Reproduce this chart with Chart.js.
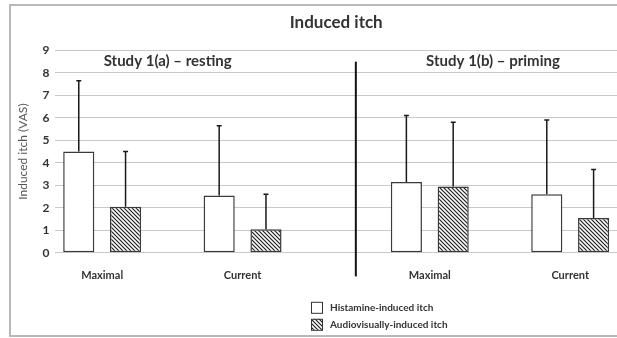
<!DOCTYPE html>
<html>
<head>
<meta charset="utf-8">
<script src="https://cdn.jsdelivr.net/npm/chart.js@4"></script>
<style>
  html, body { margin: 0; padding: 0; background: #fff; }
  #wrap { width: 617px; height: 338px; }
</style>
</head>
<body>
<div id="wrap"><canvas id="myChart" width="617" height="338"></canvas></div>
<script>
const groups = ['Maximal', 'Current', 'Maximal', 'Current'];
const histamine = [4.5, 2.55, 3.15, 2.6];
const histamineSD = [3.15, 3.1, 2.95, 3.3];
const audio = [2.05, 1.05, 2.95, 1.55];
const audioSD = [2.45, 1.55, 2.85, 2.15];
const seriesNames = ['Histamine-induced itch', 'Audiovisually-induced itch'];
const studies = ['Study 1(a) – resting', 'Study 1(b) – priming'];
const yMax = 9;

// x axis is split in 13 slots, the four groups sit on these slots
const slotCount = 13;
const groupSlots = [1, 4, 8, 11];

const FONT = 'Lato, "Open Sans", sans-serif';
const INK = '#333';

function spread(values) {
    const out = new Array(slotCount).fill(null);
    groupSlots.forEach((s, i) => { out[s] = values[i]; });
    return out;
}
const labels = spread(groups).map(v => v === null ? '' : v);

function makeHatch() {
    const c = document.createElement('canvas');
    c.width = 4; c.height = 4;
    const g = c.getContext('2d');
    g.fillStyle = '#fff';
    g.fillRect(0, 0, 4, 4);
    g.strokeStyle = '#1e1e1e';
    g.lineWidth = 1.2;
    g.beginPath();
    g.moveTo(-1, -1); g.lineTo(5, 5);
    g.moveTo(3, -1); g.lineTo(5, 1);
    g.moveTo(-1, 3); g.lineTo(1, 5);
    g.stroke();
    return g.createPattern(c, 'repeat');
}
const hatch = makeHatch();

// error bars, divider, study headings, legend and frame
const extras = {
    id: 'extras',
    beforeDraw(chart) {
        const ctx = chart.ctx;
        ctx.save();
        ctx.strokeStyle = '#b9b9b9';
        ctx.lineWidth = 2;
        ctx.strokeRect(10, 5, 640, 331);
        ctx.restore();
    },
    afterDatasetsDraw(chart) {
        const ctx = chart.ctx;
        const x = chart.scales.x, y = chart.scales.y;
        const sds = [histamineSD, audioSD];
        const means = [histamine, audio];
        ctx.save();
        ctx.strokeStyle = '#1a1a1a';
        ctx.lineWidth = 1.5;
        chart.data.datasets.forEach((ds, d) => {
            const meta = chart.getDatasetMeta(d);
            groupSlots.forEach((s, i) => {
                const bar = meta.data[s];
                const top = y.getPixelForValue(means[d][i] + sds[d][i]);
                ctx.beginPath();
                ctx.moveTo(bar.x, bar.y);
                ctx.lineTo(bar.x, top);
                ctx.moveTo(bar.x - 2.5, top);
                ctx.lineTo(bar.x + 2.5, top);
                ctx.stroke();
            });
        });
        // divider between the two studies
        ctx.lineWidth = 2;
        ctx.strokeStyle = '#111';
        const dx = x.getPixelForValue(6.42);
        ctx.beginPath();
        ctx.moveTo(dx, y.getPixelForValue(8.5));
        ctx.lineTo(dx, y.getPixelForValue(-1.05));
        ctx.stroke();
        ctx.restore();
    },
    afterDraw(chart) {
        const ctx = chart.ctx;
        const x = chart.scales.x, y = chart.scales.y;
        ctx.save();
        ctx.fillStyle = INK;
        ctx.font = 'bold 15px ' + FONT;
        ctx.textAlign = 'center';
        ctx.textBaseline = 'middle';
        ctx.fillText(studies[0], x.getPixelForValue(2.4), y.getPixelForValue(8.5));
        ctx.fillText(studies[1], x.getPixelForValue(9.35), y.getPixelForValue(8.5));

        // legend, stacked in two rows
        const lx = 311;
        let ly = chart.chartArea.bottom + 54;
        ctx.font = 'bold 10px ' + FONT;
        ctx.textAlign = 'left';
        const fills = ['#fff', hatch];
        seriesNames.forEach((name, i) => {
            ctx.fillStyle = fills[i];
            ctx.fillRect(lx, ly + i * 17 - 5, 11, 11);
            ctx.strokeStyle = '#333';
            ctx.lineWidth = 1;
            ctx.strokeRect(lx + 0.5, ly + i * 17 - 4.5, 11, 11);
            ctx.fillStyle = INK;
            ctx.fillText(name, lx + 19, ly + i * 17 + 1);
        });
        ctx.restore();
    }
};

const ctx = document.getElementById('myChart').getContext('2d');
const myChart = new Chart(ctx, {
    type: 'bar',
    data: {
        labels: labels,
        datasets: [{
            label: seriesNames[0],
            data: spread(histamine),
            backgroundColor: '#fff',
            borderColor: '#3a3a3a',
            borderWidth: 1.5,
            borderSkipped: false,
        }, {
            label: seriesNames[1],
            data: spread(audio),
            backgroundColor: hatch,
            borderColor: '#3a3a3a',
            borderWidth: 1.5,
            borderSkipped: false,
        }]
    },
    options: {
        responsive: false,
        animation: false,
        devicePixelRatio: 1,
        categoryPercentage: 2.0,
        barPercentage: 0.665,
        layout: { padding: { top: 8, left: 16, right: 0, bottom: 56 } },
        plugins: {
            legend: { display: false },
            tooltip: { enabled: false },
            title: {
                display: true,
                fullSize: false,
                text: 'Induced itch',
                color: INK,
                font: { family: FONT, size: 17, weight: 'bold' },
                padding: { top: 4, bottom: 18 }
            }
        },
        scales: {
            x: {
                offset: false,
                // invisible tick marks push the labels down without side padding
                grid: { display: true, drawOnChartArea: false, drawTicks: true, tickLength: 16, color: 'rgba(0,0,0,0)' },
                border: { display: false },
                ticks: {
                    autoSkip: false,
                    maxRotation: 0,
                    padding: 0,
                    color: INK,
                    font: { family: FONT, size: 11, weight: 'bold' }
                }
            },
            y: {
                min: 0,
                max: yMax,
                grid: { color: '#c9c9c9', drawTicks: false },
                border: { display: false },
                ticks: {
                    stepSize: 1,
                    padding: 6,
                    color: INK,
                    font: { family: FONT, size: 12, weight: 'bold' }
                },
                title: {
                    display: true,
                    text: 'Induced itch (VAS)',
                    color: '#555',
                    font: { family: FONT, size: 12 },
                    padding: { top: 0, bottom: 6 }
                }
            }
        }
    },
    plugins: [extras]
});
</script>
</body>
</html>
